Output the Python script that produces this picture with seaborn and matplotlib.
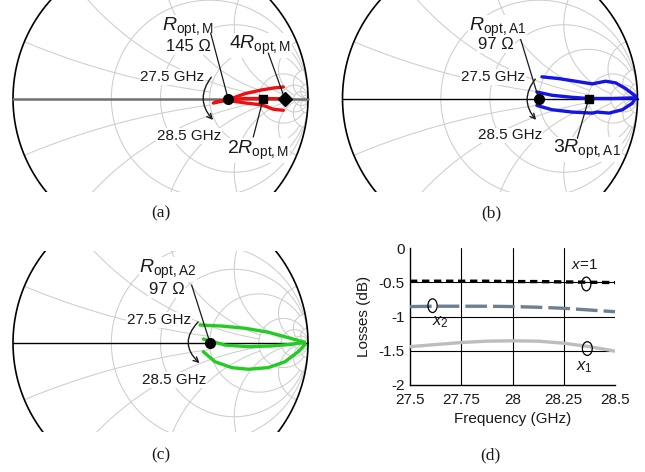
import numpy as np
import matplotlib
matplotlib.use("Agg")
import matplotlib.pyplot as plt
import seaborn as sns
from matplotlib.patches import Ellipse, FancyArrowPatch

# --- data ---
# smith chart grid (normalized r circles / x arcs and where they stop)
r_values = [0.5, 1, 2, 5, 10, 20, 50]
r_limits = [20, 10, 10, 20, np.inf, np.inf, np.inf]
x_values = [0.2, 0.5, 1, 2, 5, 10, 20]
x_limits = [2, 5, 5, 10, 20, np.inf, np.inf]

# panel (a) red traces, reflection coefficient (re, im)
a_upper = [(0.358, -0.031), (0.46, -0.008), (0.573, 0.033), (0.686, 0.058),
           (0.765, 0.071), (0.833, 0.078)]
a_middle = [(0.37, -0.024), (0.456, -0.008), (0.573, 0.0), (0.686, 0.0),
            (0.84, -0.002)]
a_lower = [(0.437, -0.01), (0.573, -0.03), (0.675, -0.042), (0.72, -0.055),
           (0.765, -0.073), (0.833, -0.08)]
a_markers = [0.458, 0.697, 0.842]  # R_opt,M / 2R_opt,M / 4R_opt,M

# panel (b) blue traces
b_upper = [(0.352, 0.147), (0.466, 0.135), (0.58, 0.117), (0.693, 0.099),
           (0.727, 0.106), (0.784, 0.117), (0.852, 0.106), (0.92, 0.067),
           (0.988, 0.015)]
b_middle = [(0.318, 0.044), (0.42, 0.022), (0.557, 0.008), (0.668, 0.0),
            (0.83, 0.0), (0.988, 0.005)]
b_lower = [(0.318, -0.047), (0.42, -0.076), (0.557, -0.092), (0.693, -0.099),
           (0.727, -0.092), (0.807, -0.099), (0.898, -0.076), (0.966, -0.031),
           (0.988, 0.008)]
b_markers = [0.33, 0.67]  # R_opt,A1 / 3R_opt,A1

# panel (c) green traces
c_upper = [(0.268, 0.122), (0.415, 0.115), (0.573, 0.1), (0.731, 0.073),
           (0.867, 0.036), (0.975, 0.005)]
c_middle = [(0.29, 0.027), (0.437, -0.014), (0.595, -0.025), (0.754, -0.02),
            (0.889, -0.009), (0.975, 0.005)]
c_lower = [(0.29, -0.059), (0.37, -0.127), (0.483, -0.167), (0.595, -0.178),
           (0.731, -0.167), (0.844, -0.127), (0.934, -0.059), (0.98, -0.01)]
c_markers = [0.336]  # R_opt,A2

# panel (d) losses vs frequency
freq_ghz = [27.5, 27.625, 27.75, 27.875, 28.0, 28.125, 28.25, 28.375, 28.5]
loss_x_eq1 = [-0.485, -0.485, -0.485, -0.485, -0.49, -0.49, -0.495, -0.5, -0.505]
loss_x2 = [-0.855, -0.85, -0.85, -0.85, -0.855, -0.865, -0.88, -0.905, -0.93]
loss_x1 = [-1.44, -1.41, -1.38, -1.36, -1.355, -1.36, -1.39, -1.44, -1.505]
freq_ticks = [27.5, 27.75, 28, 28.25, 28.5]
freq_labels = ["27.5", "27.75", "28", "28.25", "28.5"]
loss_ticks = [-2, -1.5, -1, -0.5, 0]
loss_labels = ["-2", "-1.5", "-1", "-0.5", "0"]

sns.set_theme(style="white")
plt.rcParams["font.family"] = ["Liberation Sans", "DejaVu Sans"]
plt.rcParams["mathtext.fontset"] = "custom"
plt.rcParams["mathtext.rm"] = "Liberation Sans"
plt.rcParams["mathtext.it"] = "Liberation Sans:italic"
plt.rcParams["mathtext.bf"] = "Liberation Sans:bold"

W, H = 645, 472
SCALE = 147.5  # px per unit reflection coefficient
TXT = "#1a1a1a"
GRID = "#cdcdcd"

fig = plt.figure(figsize=(W / 100, H / 100), dpi=100)


def add_px_axes(x0, y0, x1, y1):
    return fig.add_axes([x0 / W, 1 - y1 / H, (x1 - x0) / W, (y1 - y0) / H])


def smith_axes(cx, cy, x0, y0, x1, y1, axis_color, axis_lw):
    ax = add_px_axes(x0, y0, x1, y1)
    ax.set_xlim((x0 - cx) / SCALE, (x1 - cx) / SCALE)
    ax.set_ylim((cy - y1) / SCALE, (cy - y0) / SCALE)
    ax.axis("off")
    # constant resistance circles
    for r, lim in zip(r_values, r_limits):
        xs = np.tan(np.linspace(-1, 1, 801) * np.arctan(lim))
        z = r + 1j * xs
        g = (z - 1) / (z + 1)
        ax.plot(g.real, g.imag, color=GRID, lw=0.75, zorder=1)
    # constant reactance arcs
    for x, lim in zip(x_values, x_limits):
        rs = np.tan(np.linspace(0, 0.9999, 600) * np.arctan(lim))
        for sgn in (1, -1):
            z = rs + 1j * sgn * x
            g = (z - 1) / (z + 1)
            ax.plot(g.real, g.imag, color=GRID, lw=0.75, zorder=1)
    t = np.linspace(0, 2 * np.pi, 500)
    ax.plot(np.cos(t), np.sin(t), color="black", lw=1.2, zorder=2)
    ax.plot([-1, 1], [0, 0], color=axis_color, lw=axis_lw, zorder=2)
    return ax


def trace(ax, pts, color):
    re = [p[0] for p in pts]
    im = [p[1] for p in pts]
    sns.lineplot(x=re, y=im, ax=ax, sort=False, estimator=None, color=color,
                 lw=2.4, zorder=4, solid_capstyle="round", legend=False)


def label(ax, x, y, s, size):
    ax.text(x, y, s, ha="center", va="baseline", fontsize=size, color=TXT,
            zorder=3, bbox=dict(fc="white", ec="none", pad=0.6))


def leader(ax, p0, p1):
    ax.plot([p0[0], p1[0]], [p0[1], p1[1]], color=TXT, lw=0.9, zorder=5)


def freq_arrow(ax, p0, p1, rad):
    ax.add_patch(FancyArrowPatch(p0, p1, connectionstyle=f"arc3,rad={rad}",
                                 arrowstyle="->", mutation_scale=9,
                                 color=TXT, lw=1.0, zorder=5))


# ---------------- (a) ----------------
ax_a = smith_axes(160.5, 98.5, 6, 0, 315, 192, "#707070", 1.8)
for pts in (a_upper, a_middle, a_lower):
    trace(ax_a, pts, "#ee1010")
label(ax_a, 0.183, 0.46, r"$R_{\mathrm{opt,M}}$", 14)
label(ax_a, 0.19, 0.322, "145 Ω", 12)
label(ax_a, 0.675, 0.336, r"$4R_{\mathrm{opt,M}}$", 14)
label(ax_a, 0.661, -0.376, r"$2R_{\mathrm{opt,M}}$", 14)
label(ax_a, 0.081, 0.119, "27.5 GHz", 11)
label(ax_a, 0.193, -0.281, "28.5 GHz", 11)
leader(ax_a, (0.34, 0.444), (a_markers[0], 0.0))
leader(ax_a, (0.731, 0.308), (a_markers[2], 0.0))
leader(ax_a, (0.629, -0.261), (a_markers[1], 0.0))
freq_arrow(ax_a, (0.356, 0.159), (0.369, -0.159), 0.45)
ax_a.plot([a_markers[0]], [0], "o", ms=7, color="black", zorder=6)
ax_a.plot([a_markers[1]], [0], "s", ms=6.3, color="black", zorder=6)
ax_a.plot([a_markers[2]], [0], "D", ms=7, color="black", zorder=6)

# ---------------- (b) ----------------
ax_b = smith_axes(490, 98.5, 335.5, 0, 644.5, 192, "black", 1.0)
for pts in (b_upper, b_middle, b_lower):
    trace(ax_b, pts, "#1414e6")
label(ax_b, 0.051, 0.46, r"$R_{\mathrm{opt,A1}}$", 14)
label(ax_b, 0.041, 0.333, "97 Ω", 12)
label(ax_b, 0.658, -0.372, r"$3R_{\mathrm{opt,A1}}$", 14)
label(ax_b, 0.02, 0.119, "27.5 GHz", 11)
label(ax_b, 0.139, -0.277, "28.5 GHz", 11)
leader(ax_b, (0.208, 0.401), (b_markers[0], 0.0))
leader(ax_b, (0.592, -0.27), (b_markers[1], 0.0))
freq_arrow(ax_b, (0.319, 0.146), (0.325, -0.159), 0.45)
ax_b.plot([b_markers[0]], [0], "o", ms=7, color="black", zorder=6)
ax_b.plot([b_markers[1]], [0], "s", ms=6.3, color="black", zorder=6)

# ---------------- (c) ----------------
ax_c = smith_axes(160.5, 343, 6, 251, 315, 432, "black", 1.0)
for pts in (c_upper, c_middle, c_lower):
    trace(ax_c, pts, "#22cc22")
label(ax_c, 0.051, 0.473, r"$R_{\mathrm{opt,A2}}$", 14)
label(ax_c, 0.041, 0.332, "97 Ω", 12)
label(ax_c, -0.01, 0.129, "27.5 GHz", 11)
label(ax_c, 0.092, -0.278, "28.5 GHz", 11)
leader(ax_c, (0.211, 0.393), (c_markers[0], 0.0))
freq_arrow(ax_c, (0.268, 0.156), (0.279, -0.149), 0.55)
ax_c.plot([c_markers[0]], [0], "o", ms=7, color="black", zorder=6)

# ---------------- (d) ----------------
ax_d = add_px_axes(410, 248, 615, 385)
ax_d.set_xlim(27.5, 28.5)
ax_d.set_ylim(-2, 0)
for f in freq_ticks[1:-1]:
    ax_d.axvline(f, color="black", lw=0.8, zorder=1)
for l in loss_ticks[1:-1]:
    ax_d.axhline(l, color="black", lw=0.8, zorder=1)
sns.lineplot(x=freq_ghz, y=loss_x1, ax=ax_d, color="#bdbdbd", lw=2.4, zorder=3)
sns.lineplot(x=freq_ghz, y=loss_x2, ax=ax_d, color="#6d7f90", lw=2.4,
             linestyle=(0, (6.5, 1.8)), zorder=3)
sns.lineplot(x=freq_ghz, y=loss_x_eq1, ax=ax_d, color="black", lw=2.4,
             linestyle=(0, (2.2, 1.4)), zorder=3)
for cx, cy, w in [(28.36, -0.525, 0.045), (27.61, -0.842, 0.045),
                  (28.365, -1.468, 0.048)]:
    ax_d.add_patch(Ellipse((cx, cy), w, 0.2, fill=False, ec="black", lw=0.9,
                           zorder=4))
ax_d.text(28.35, -0.25, r"$x$=1", ha="center", va="center", fontsize=11,
          color=TXT)
ax_d.text(27.65, -1.08, r"$x_2$", ha="center", va="center", fontsize=12,
          color=TXT)
ax_d.text(28.35, -1.74, r"$x_1$", ha="center", va="center", fontsize=12,
          color=TXT)
ax_d.set_xticks(freq_ticks, labels=freq_labels)
ax_d.set_yticks(loss_ticks, labels=loss_labels)
ax_d.tick_params(length=0, labelsize=11, colors=TXT)
ax_d.tick_params(axis="x", pad=6)
ax_d.tick_params(axis="y", pad=4)
ax_d.set_xlabel("Frequency (GHz)", fontsize=11, labelpad=3, color=TXT)
ax_d.set_ylabel("Losses (dB)", fontsize=11, labelpad=5, color=TXT)
sns.despine(ax=ax_d)
for s in ("left", "bottom"):
    ax_d.spines[s].set_color("black")
    ax_d.spines[s].set_linewidth(1.0)

# captions
for x, y, s in [(160.5, 213, "(a)"), (491, 213, "(b)"),
                (160.5, 455, "(c)"), (490, 455, "(d)")]:
    fig.text(x / W, 1 - y / H, s, ha="center", va="center", fontsize=12.5,
             family="Liberation Serif", color=TXT)

fig.savefig("out.png", dpi=100)
